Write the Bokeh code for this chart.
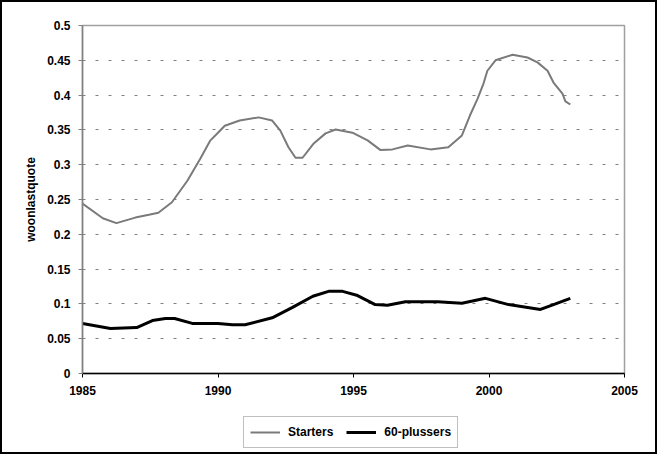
from bokeh.plotting import figure
from bokeh.layouts import column
from bokeh.models import Range1d, FixedTicker, CustomJSTickFormatter, Legend, LegendItem
from bokeh.embed import file_html
from bokeh.resources import INLINE

# ---- data ----
starters_years = [1985.0, 1985.75, 1986.25, 1986.95, 1987.45, 1987.8, 1988.3, 1988.87,
                  1989.35, 1989.72, 1990.0, 1990.25, 1990.8, 1991.5, 1992.0, 1992.3,
                  1992.6, 1992.86, 1993.12, 1993.52, 1993.97, 1994.34, 1994.96, 1995.52,
                  1996.0, 1996.44, 1997.0, 1997.84, 1998.5, 1999.0, 1999.3, 1999.58,
                  1999.8, 1999.94, 2000.24, 2000.87, 2001.42, 2001.79, 2002.16, 2002.38,
                  2002.71, 2002.82, 2003.0]
starters_values = [0.244, 0.223, 0.216, 0.224, 0.228, 0.231, 0.246, 0.277,
                   0.309, 0.335, 0.346, 0.356, 0.3635, 0.368, 0.3635, 0.349,
                   0.325, 0.310, 0.310, 0.330, 0.345, 0.3505, 0.346, 0.335,
                   0.321, 0.322, 0.3275, 0.322, 0.325, 0.342, 0.371, 0.395,
                   0.417, 0.435, 0.450, 0.458, 0.454, 0.447, 0.435, 0.418,
                   0.402, 0.391, 0.3865]

plus60_years = [1985.0, 1986.03, 1987.0, 1987.58, 1988.06, 1988.4, 1989.05, 1990.0,
                1990.53, 1991.0, 1992.0, 1992.75, 1993.5, 1994.08, 1994.6, 1995.15,
                1995.8, 1996.25, 1996.92, 1998.1, 1999.0, 1999.87, 2000.72, 2001.9,
                2002.38, 2003.0]
plus60_values = [0.0718, 0.0647, 0.066, 0.076, 0.079, 0.079, 0.072, 0.072,
                 0.070, 0.070, 0.080, 0.095, 0.111, 0.118, 0.118, 0.112,
                 0.099, 0.098, 0.103, 0.103, 0.101, 0.108, 0.099, 0.092,
                 0.099, 0.108]

x_ticks = [1985, 1990, 1995, 2000, 2005]
y_ticks = [0, 0.05, 0.1, 0.15, 0.2, 0.25, 0.3, 0.35, 0.4, 0.45, 0.5]
series_names = ["Starters", "60-plussers"]
series_colors = ["#7a7a7a", "black"]
series_widths = [2, 3]
y_label = "woonlastquote"

FONT = "Liberation Sans"
W = 653
H_MAIN, H_LEG = 400, 50

p = figure(width=W, height=H_MAIN, output_backend="svg", toolbar_location=None,
           x_range=Range1d(1985, 2005), y_range=Range1d(0, 0.5),
           min_border_left=80, min_border_right=31, min_border_top=23, min_border_bottom=29,
           background_fill_color="white", border_fill_color="white")

p.outline_line_color = "#a0a0a0"
p.outline_line_width = 1.5

# grid
p.xgrid.visible = False
p.ygrid.ticker = FixedTicker(ticks=y_ticks)
p.ygrid.grid_line_color = "#808080"
p.ygrid.grid_line_dash = "3 10"
p.ygrid.grid_line_width = 1

# axes
fmt = CustomJSTickFormatter(code="return tick.toString();")
p.xaxis.ticker = FixedTicker(ticks=x_ticks)
p.yaxis.ticker = FixedTicker(ticks=y_ticks)
p.xaxis.formatter = fmt
p.yaxis.formatter = fmt
for ax in (p.xaxis, p.yaxis):
    ax.major_label_text_font = FONT
    ax.major_label_text_font_style = "bold"
    ax.major_label_text_font_size = "12px"
    ax.major_label_text_color = "black"
    ax.minor_tick_line_color = None
    ax.major_tick_in = 0
    ax.major_tick_out = 4
p.xaxis.axis_line_color = "black"
p.xaxis.axis_line_width = 1.5
p.xaxis.major_tick_line_color = "black"
p.xaxis.major_label_standoff = 8
p.yaxis.axis_line_color = "#808080"
p.yaxis.axis_line_width = 1.5
p.yaxis.major_tick_line_color = "#808080"
p.yaxis.major_label_standoff = 8
p.yaxis.axis_label = y_label
p.yaxis.axis_label_text_font = FONT
p.yaxis.axis_label_text_font_style = "bold"
p.yaxis.axis_label_text_font_size = "12px"
p.yaxis.axis_label_text_color = "black"
p.yaxis.axis_label_standoff = 6

p.line(starters_years, starters_values, line_color=series_colors[0], line_width=series_widths[0])
p.line(plus60_years, plus60_values, line_color=series_colors[1], line_width=series_widths[1])

# legend strip below the chart (series drawn off-view there, only the legend shows)
pl = figure(width=W, height=H_LEG, output_backend="svg", toolbar_location=None,
            x_axis_type=None, y_axis_type=None,
            x_range=Range1d(0, 1), y_range=Range1d(0, 1),
            min_border_left=80, min_border_right=31, min_border_top=0, min_border_bottom=0,
            background_fill_color="white", border_fill_color="white")
pl.outline_line_color = None
pl.grid.visible = False
items = []
for name, col, lw, xs, ys in zip(series_names, series_colors, series_widths,
                                 [starters_years, plus60_years],
                                 [starters_values, plus60_values]):
    rr = pl.line(xs, ys, line_color=col, line_width=lw)
    items.append(LegendItem(label=name, renderers=[rr]))
legend = Legend(items=items, orientation="horizontal", location=(161, 4),
                label_text_font=FONT, label_text_font_style="bold",
                label_text_font_size="12px", label_text_color="black",
                border_line_color="#808080", border_line_width=1,
                glyph_width=30, glyph_height=18, label_height=18,
                label_standoff=8, spacing=13, padding=6, margin=0)
pl.add_layout(legend, "center")

layout = column(p, pl, spacing=0, styles={"border": "2px solid black"})

open("out.html", "w").write(file_html(layout, INLINE))
